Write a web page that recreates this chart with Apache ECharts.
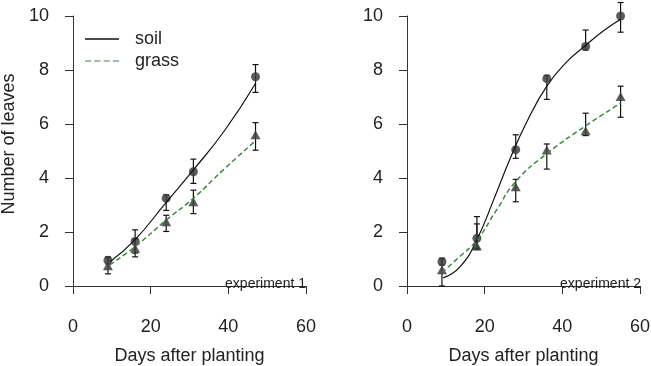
<!DOCTYPE html>
<html>
<head>
<meta charset="utf-8">
<script src="https://cdn.jsdelivr.net/npm/echarts@6/dist/echarts.min.js"></script>
<style>
  html, body { margin: 0; padding: 0; background: #fff; }
  #chart { width: 651px; height: 366px; }
</style>
</head>
<body>
<div id="chart"></div>
<script>
// experiment 1 - measured means and error bars
var days1 = [9, 16, 24, 31, 47];
var soil1 = [0.95, 1.65, 3.25, 4.23, 7.75];
var soil1Lo = [0.82, 1.22, 2.8, 3.8, 7.17];
var soil1Hi = [1.08, 2.08, 3.38, 4.7, 8.2];
var grass1 = [0.75, 1.4, 2.38, 3.12, 5.6];
var grass1Lo = [0.45, 1.08, 2.02, 2.68, 5.03];
var grass1Hi = [1.05, 1.75, 2.62, 3.55, 6.05];

// experiment 1 - fitted curves
var soilFit1Days = [9.5, 16, 24, 31, 39, 47];
var soilFit1 = [0.9, 1.72, 3.1, 4.3, 5.75, 7.5];
var grassFit1Days = [9.5, 16, 24, 31, 38.7, 47];
var grassFit1 = [0.78, 1.46, 2.44, 3.25, 4.3, 5.38];

// experiment 2 - measured means and error bars
var days2 = [9, 18, 28, 36, 46, 55];
var soil2 = [0.9, 1.77, 5.05, 7.68, 8.87, 10.0];
var soil2Lo = [0.78, 1.4, 4.73, 6.91, 8.74, 9.4];
var soil2Hi = [1.03, 2.57, 5.6, 7.8, 9.48, 10.5];
var grass2 = [0.6, 1.48, 3.68, 5.04, 5.75, 7.02];
var grass2Lo = [0.0, 1.35, 3.12, 4.33, 5.57, 6.25];
var grass2Hi = [1.0, 2.3, 3.95, 5.26, 6.4, 7.4];

// experiment 2 - fitted curves
var soilFit2Days = [9.3, 13.7, 18, 22.3, 26.6, 30.9, 36, 41.2, 45.9, 50.6, 55];
var soilFit2 = [0.3, 0.72, 1.72, 3.19, 4.73, 6.09, 7.4, 8.31, 8.9, 9.45, 9.88];
var grassFit2Days = [9, 13.5, 18, 23, 28, 36, 46, 55];
var grassFit2 = [0.5, 1.08, 1.7, 2.8, 3.87, 4.9, 5.93, 6.77];

var FONT = "'Liberation Sans', Arial, sans-serif";
var GREEN = '#3a8a3a';
var MARK = '#3f3f3f';

function pairs(xs, ys) {
	var out = [];
	for (var i = 0; i < xs.length; i++) {
		out.push([xs[i], ys[i]]);
	}
	return out;
}
function bars(xs, lo, hi) {
	var out = [];
	for (var i = 0; i < xs.length; i++) {
		out.push([xs[i], lo[i], hi[i]]);
	}
	return out;
}

var renderBar = function(params, api) {
	var x = api.value(0);
	var pLo = api.coord([x, api.value(1)]);
	var pHi = api.coord([x, api.value(2)]);
	var w = 3;
	var st = { stroke: '#111', lineWidth: 1.2 };
	return {
		type : 'group',
		children : [
			{ type : 'line', shape : { x1 : pLo[0], y1 : pLo[1], x2 : pHi[0], y2 : pHi[1] }, style : st },
			{ type : 'line', shape : { x1 : pLo[0] - w, y1 : pLo[1], x2 : pLo[0] + w, y2 : pLo[1] }, style : st },
			{ type : 'line', shape : { x1 : pHi[0] - w, y1 : pHi[1], x2 : pHi[0] + w, y2 : pHi[1] }, style : st }
		]
	};
};

function xAxisFor(idx) {
	return {
		gridIndex : idx,
		type : 'value',
		min : 0,
		max : 60,
		interval : 20,
		offset : 13,
		name : 'Days after planting',
		nameLocation : 'middle',
		nameGap : 48,
		nameTextStyle : { fontSize : 18, color : '#222', fontFamily : FONT },
		axisLine : { show : true, lineStyle : { color : '#333', width : 1 } },
		axisTick : { show : true, length : 8, lineStyle : { color : '#333' } },
		axisLabel : { fontSize : 18, color : '#222', margin : 19, fontFamily : FONT },
		splitLine : { show : false }
	};
}
function yAxisFor(idx, withName) {
	return {
		gridIndex : idx,
		type : 'value',
		min : 0,
		max : 10,
		interval : 2,
		offset : 9,
		name : withName ? 'Number of leaves' : '',
		nameLocation : 'middle',
		nameGap : 46,
		nameTextStyle : { fontSize : 18, color : '#222', fontFamily : FONT, padding : [0, 0, 0, 14] },
		axisLine : { show : true, lineStyle : { color : '#333', width : 1 } },
		axisTick : { show : true, length : 8, lineStyle : { color : '#333' } },
		axisLabel : { fontSize : 18, color : '#222', margin : 15, fontFamily : FONT },
		splitLine : { show : false }
	};
}

function panelSeries(g, days, soil, soilLo, soilHi, grass, grassLo, grassHi,
		sDays, sFit, gDays, gFit) {
	return [ {
		name : 'soil data',
		type : 'scatter',
		xAxisIndex : g, yAxisIndex : g,
		symbol : 'circle',
		symbolSize : 9,
		itemStyle : { color : MARK, opacity : 0.85 },
		data : pairs(days, soil)
	}, {
		name : 'grass data',
		type : 'scatter',
		xAxisIndex : g, yAxisIndex : g,
		symbol : 'triangle',
		symbolSize : [10, 9],
		itemStyle : { color : MARK, opacity : 0.85 },
		data : pairs(days, grass)
	}, {
		type : 'custom',
		xAxisIndex : g, yAxisIndex : g,
		renderItem : renderBar,
		encode : { x : 0, y : [1, 2] },
		data : bars(days, soilLo, soilHi)
	}, {
		type : 'custom',
		xAxisIndex : g, yAxisIndex : g,
		renderItem : renderBar,
		encode : { x : 0, y : [1, 2] },
		data : bars(days, grassLo, grassHi)
	}, {
		name : 'soil',
		type : 'line',
		xAxisIndex : g, yAxisIndex : g,
		smooth : true,
		symbol : 'none',
		lineStyle : { color : '#111', width : 1.2 },
		itemStyle : { color : '#111' },
		data : pairs(sDays, sFit)
	}, {
		name : 'grass',
		type : 'line',
		xAxisIndex : g, yAxisIndex : g,
		smooth : true,
		symbol : 'none',
		lineStyle : { color : GREEN, width : 1.5, type : [5, 3] },
		itemStyle : { color : GREEN },
		data : pairs(gDays, gFit)
	} ];
}

var chart = echarts.init(document.getElementById('chart'));

var option = {
	animation : false,
	textStyle : { fontFamily : FONT },
	title : [ {
		text : 'experiment 1',
		right : 345, top : 277, padding : 0,
		textStyle : { fontSize : 14, fontWeight : 'normal', color : '#222', fontFamily : FONT }
	}, {
		text : 'experiment 2',
		right : 10, top : 277, padding : 0,
		textStyle : { fontSize : 14, fontWeight : 'normal', color : '#222', fontFamily : FONT }
	} ],
	legend : {
		data : [
			{ name : 'soil', icon : 'rect' },
			{ name : 'grass', icon : 'path://M0,0h6v1h-6z M9,0h6v1h-6z M18,0h6v1h-6z M27,0h6v1h-6z' }
		],
		orient : 'vertical',
		left : 85,
		top : 30,
		padding : 0,
		itemWidth : 34,
		itemHeight : 1.5,
		itemGap : 4,
		textStyle : { fontSize : 18, color : '#222', fontFamily : FONT, padding : [0, 0, 0, 11] }
	},
	grid : [
		{ left : 73, right : 345, top : 16, bottom : 80, outerBoundsMode : 'none' },
		{ left : 407, right : 11, top : 16, bottom : 80, outerBoundsMode : 'none' }
	],
	xAxis : [ xAxisFor(0), xAxisFor(1) ],
	yAxis : [ yAxisFor(0, true), yAxisFor(1, false) ],
	series : panelSeries(0, days1, soil1, soil1Lo, soil1Hi, grass1, grass1Lo, grass1Hi,
			soilFit1Days, soilFit1, grassFit1Days, grassFit1)
		.concat(panelSeries(1, days2, soil2, soil2Lo, soil2Hi, grass2, grass2Lo, grass2Hi,
			soilFit2Days, soilFit2, grassFit2Days, grassFit2))
};
chart.setOption(option);
</script>
</body>
</html>
